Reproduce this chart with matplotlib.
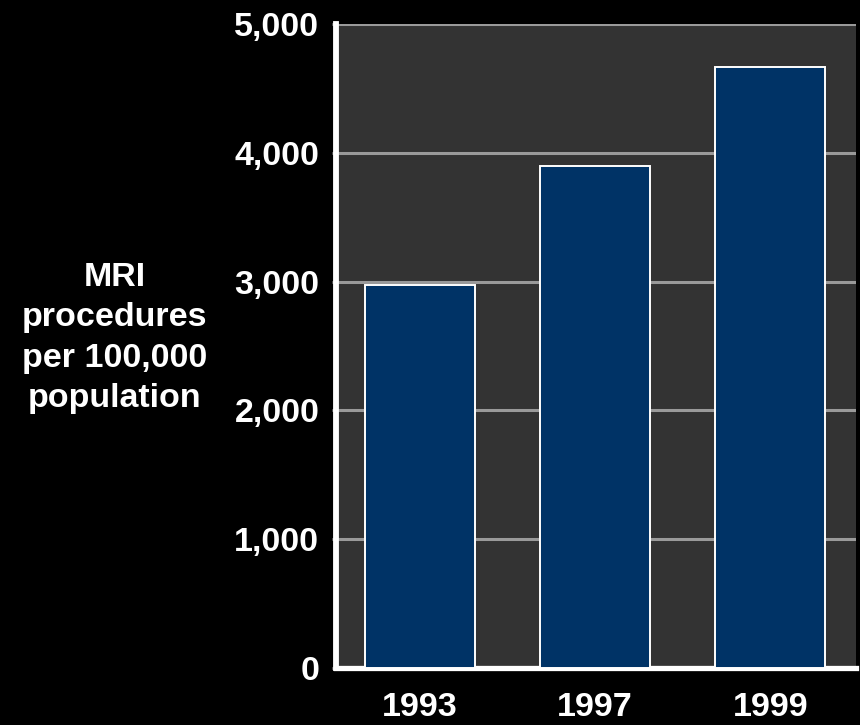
import matplotlib
matplotlib.use("Agg")
import matplotlib.pyplot as plt
from matplotlib.ticker import FuncFormatter

years = ["1993", "1997", "1999"]
mri_rates = [2975, 3900, 4670]
y_ticks = [0, 1000, 2000, 3000, 4000, 5000]

plt.rcParams['font.family'] = ['Liberation Sans', 'DejaVu Sans']

fig = plt.figure(figsize=(8.6, 7.25), dpi=100, facecolor='black')
ax = fig.add_axes([336/860, 57/725, 520/860, 644/725])
ax.set_facecolor('#333333')

x = range(len(years))
ax.bar(x, mri_rates, width=0.63, color='#003366', edgecolor='white',
       linewidth=1.4, zorder=3)

ax.set_xlim(-0.48, 2.49)
ax.set_ylim(0, 5000)
ax.set_yticks(y_ticks)
ax.yaxis.set_major_formatter(FuncFormatter(lambda v, p: f"{int(v):,}"))
ax.set_xticks(list(x))
ax.set_xticklabels(years)

ax.grid(axis='y', color='#9a9a9a', linewidth=2.2, zorder=1)
ax.set_axisbelow(True)

for s in ['top', 'right']:
    ax.spines[s].set_visible(False)
ax.spines['left'].set_color('white')
ax.spines['left'].set_linewidth(4.2)
ax.spines['bottom'].set_color('white')
ax.spines['bottom'].set_linewidth(3.8)

ax.tick_params(axis='y', length=3, width=2, color='#999999', pad=9,
               labelsize=24.5, labelcolor='white')
ax.tick_params(axis='x', length=0, pad=17, labelsize=24.5, labelcolor='white')
for lab in ax.get_yticklabels() + ax.get_xticklabels():
    lab.set_fontweight('bold')

fig.text(115/860, 1 - 338/725, "MRI\nprocedures\nper 100,000\npopulation",
         ha='center', va='center', multialignment='center', color='white',
         fontsize=24.5, fontweight='bold', linespacing=1.4)

fig.savefig("out.png", dpi=100, facecolor='black')
